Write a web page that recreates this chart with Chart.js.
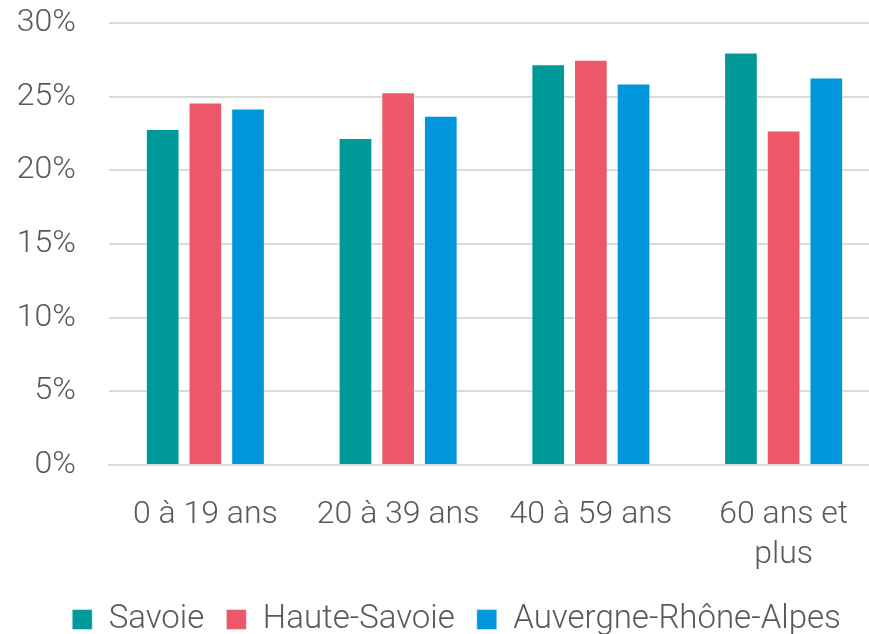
<!DOCTYPE html>
<html>
<head>
<meta charset="utf-8">
<script src="https://cdn.jsdelivr.net/npm/chart.js@4/dist/chart.umd.min.js"></script>
<style>
  html, body { margin: 0; padding: 0; background: #fff; overflow: hidden; }
  #wrap { position: relative; width: 880px; height: 634px; }
</style>
</head>
<body>
<div id="wrap"><canvas id="chart"></canvas></div>
<script>
const categories = ['0 à 19 ans', '20 à 39 ans', '40 à 59 ans', ['60 ans et', 'plus']];
const seriesNames = ['Savoie', 'Haute-Savoie', 'Auvergne-Rhône-Alpes'];
const savoie = [22.8, 22.2, 27.2, 28.0];
const hauteSavoie = [24.6, 25.3, 27.5, 22.7];
const aura = [24.2, 23.7, 25.9, 26.3];
const yTicks = [0, 5, 10, 15, 20, 25, 30];

const colors = ['#009999', '#EC5769', '#0096DB'];
const textColor = '#595959';
const gridColor = '#d9d9d9';

Chart.defaults.font.family = 'Roboto, "Open Sans", sans-serif';
Chart.defaults.font.weight = 300;
Chart.defaults.color = textColor;

// nudge the legend so it is centred a bit right, like the original
const legendShift = {
  id: 'legendShift',
  afterLayout(chart) {
    chart.legend.left += 33;
    chart.legend.width -= 33;
  }
};

const ctx = document.getElementById('chart');

const chart = new Chart(ctx, {
  type: 'bar',
  data: {
    labels: categories,
    datasets: [savoie, hauteSavoie, aura].map((values, i) => ({
      label: seriesNames[i],
      data: values,
      backgroundColor: colors[i],
      borderColor: 'rgba(255,255,255,0.45)',
      borderWidth: 1,
      categoryPercentage: 0.664,
      barPercentage: 0.79
    }))
  },
  options: {
    responsive: true,
    maintainAspectRatio: false,
    animation: false,
    layout: {
      padding: { top: 23, right: 0, bottom: -12, left: 0 }
    },
    plugins: {
      legend: {
        position: 'bottom',
        labels: {
          boxWidth: 20,
          boxHeight: 20,
          padding: 22,
          color: textColor,
          font: { size: 33, weight: 300 }
        }
      },
      tooltip: { enabled: false }
    },
    scales: {
      x: {
        grid: { display: false, drawTicks: false },
        border: { color: gridColor, width: 2 },
        ticks: {
          padding: 30,
          color: textColor,
          font: { size: 32, weight: 300, lineHeight: 1.25 },
          maxRotation: 0,
          autoSkip: false
        },
        afterFit: scale => { scale.height = 116; }
      },
      y: {
        min: 0,
        max: 30,
        afterBuildTicks: scale => {
          scale.ticks = yTicks.map(v => ({ value: v }));
        },
        grid: { color: gridColor, lineWidth: 2, drawTicks: true, tickLength: 33, tickColor: 'rgba(0,0,0,0)' },
        border: { display: false },
        ticks: {
          padding: 0,
          color: textColor,
          font: { size: 32, weight: 300 },
          callback: v => v + '%'
        },
        afterFit: scale => { scale.width = 109; }
      }
    }
  },
  plugins: [legendShift]
});
</script>
</body>
</html>
